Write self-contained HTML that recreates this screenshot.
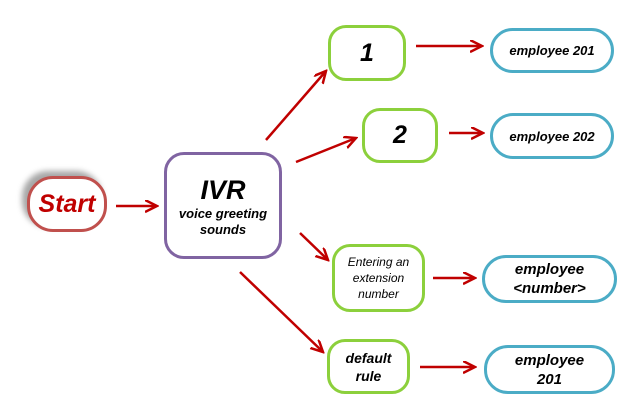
<!DOCTYPE html>
<html><head><style>
body{margin:0;width:625px;height:418px;background:#fff;overflow:hidden;font-family:"Liberation Sans",sans-serif;}
.n{position:absolute;box-sizing:border-box;display:flex;align-items:center;justify-content:center;text-align:center;font-style:italic;font-weight:bold;color:#000;background:#fff;}
.g{border:3px solid #8cd03c;border-radius:18px;}
.b{border:3px solid #4bacc6;border-radius:24px;font-size:15px;line-height:19px;}
</style></head><body>
<svg width="625" height="418" style="position:absolute;left:0;top:0">
<defs><marker id="a" markerWidth="14" markerHeight="14" refX="12" refY="6" orient="auto" markerUnits="userSpaceOnUse"><path d="M0,0 L12,6 L0,12" fill="none" stroke="#c00000" stroke-width="2.5"/></marker></defs>
<g stroke="#c00000" stroke-width="2.5" fill="none" marker-end="url(#a)">
<line x1="116" y1="206" x2="157" y2="206"/>
<line x1="266" y1="140" x2="326" y2="71"/>
<line x1="296" y1="162" x2="356" y2="138"/>
<line x1="300" y1="233" x2="328" y2="260"/>
<line x1="240" y1="272" x2="323" y2="352"/>
<line x1="416" y1="46" x2="482" y2="46"/>
<line x1="449" y1="133" x2="483" y2="133"/>
<line x1="433" y1="278" x2="475" y2="278"/>
<line x1="420" y1="367" x2="475" y2="367"/>
</g></svg>
<div class="n" style="left:27px;top:176px;width:80px;height:56px;border:3px solid #c0504d;border-radius:26px;color:#c00000;font-size:25px;box-shadow:-5px -5px 6px rgba(0,0,0,.35);">Start</div>
<div class="n" style="left:164px;top:152px;width:118px;height:107px;border:3px solid #8064a2;border-radius:20px;flex-direction:column;"><div style="font-size:27px;line-height:32px">IVR</div><div style="font-size:13px;line-height:16px">voice greeting<br>sounds</div></div>
<div class="n g" style="left:328px;top:25px;width:78px;height:56px;font-size:25px;">1</div>
<div class="n g" style="left:362px;top:108px;width:76px;height:55px;font-size:25px;">2</div>
<div class="n g" style="left:332px;top:244px;width:93px;height:68px;font-size:12px;font-weight:normal;line-height:16px;">Entering an<br>extension<br>number</div>
<div class="n g" style="left:327px;top:339px;width:83px;height:55px;font-size:14px;line-height:18px;">default<br>rule</div>
<div class="n b" style="left:490px;top:28px;width:124px;height:45px;font-size:13px;">employee 201</div>
<div class="n b" style="left:490px;top:113px;width:124px;height:46px;font-size:13px;">employee 202</div>
<div class="n b" style="left:482px;top:255px;width:135px;height:48px;">employee<br>&lt;number&gt;</div>
<div class="n b" style="left:484px;top:345px;width:131px;height:49px;">employee<br>201</div>
</body></html>
